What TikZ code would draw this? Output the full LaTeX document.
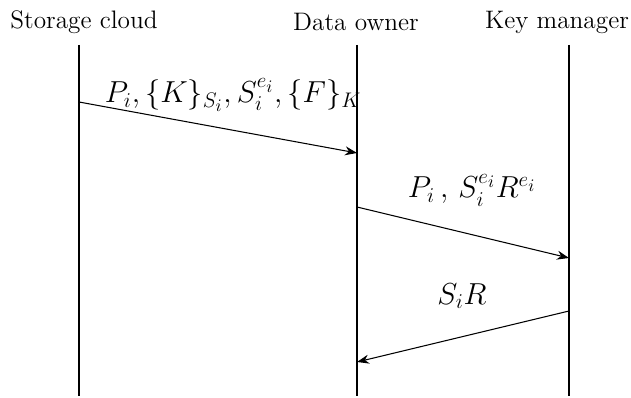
\documentclass[tikz,border=0pt]{standalone}
\usepackage{amsmath,amssymb}
\usetikzlibrary{arrows.meta}

\begin{document}
\begin{tikzpicture}[x=0.02cm,y=-0.02cm]
\tikzset{
  actor/.style={font=\Large,inner sep=1pt},
  lifeline/.style={thick},
  message/.style={-{Stealth[length=2.4mm]},semithick},
  msglabel/.style={font=\LARGE,inner sep=1pt}
}
\useasboundingbox (0,0) rectangle (631,398);
\node[actor] (n_cloud) at (84,22) {Storage cloud};
\node[actor] (n_owner) at (356,22) {Data owner};
\node[actor] (n_keymgr) at (557,22) {Key manager};
\coordinate (c_cloud_top) at (79,45);
\coordinate (c_cloud_bot) at (79,396);
\coordinate (c_owner_top) at (357,45);
\coordinate (c_owner_bot) at (357,396);
\coordinate (c_keymgr_top) at (569,45);
\coordinate (c_keymgr_bot) at (569,396);
\draw[lifeline] (c_cloud_top) -- (c_cloud_bot);
\draw[lifeline] (c_owner_top) -- (c_owner_bot);
\draw[lifeline] (c_keymgr_top) -- (c_keymgr_bot);
\coordinate (c_m1_from) at (79,102);
\coordinate (c_m1_to) at (357,153);
\coordinate (c_m2_from) at (357,207);
\coordinate (c_m2_to) at (569,258);
\coordinate (c_m3_from) at (569,311);
\coordinate (c_m3_to) at (357,362);
\draw[message] (c_m1_from) -- (c_m1_to);
\draw[message] (c_m2_from) -- (c_m2_to);
\draw[message] (c_m3_from) -- (c_m3_to);
\node[msglabel] (n_m1) at (233,95) {$P_i, \{K\}_{S_i}, S_i^{e_i}, \{F\}_K$};
\node[msglabel] (n_m2) at (472,190) {$P_i\,,\,S_i^{e_i}R^{e_i}$};
\node[msglabel] (n_m3) at (462,296) {$S_iR$};
\end{tikzpicture}
\end{document}
